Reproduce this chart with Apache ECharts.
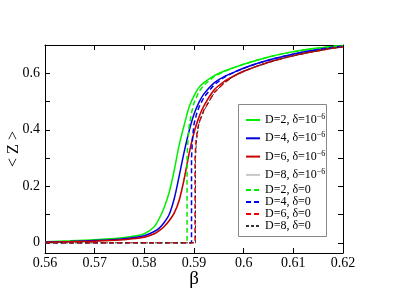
<!DOCTYPE html>
<html><head><meta charset="utf-8">
<script src="https://cdn.jsdelivr.net/npm/echarts@6/dist/echarts.min.js"></script>
<style>html,body{margin:0;padding:0;background:#fff}#c{width:411px;height:291px}</style>
</head><body><div id="c"></div>
<script>
var xTicks = [0.56, 0.57, 0.58, 0.59, 0.6, 0.61, 0.62];
var yLabels = [0, 0.2, 0.4, 0.6];
var yTicks = [0, 0.1, 0.2, 0.3, 0.4, 0.5, 0.6, 0.7];

var beta = [0.56,0.565,0.57,0.575,0.578,0.58,0.582,0.583,0.584,0.585,0.586,0.587,0.588,0.589,0.590,0.591,0.592,0.594,0.596,0.598,0.600,0.603,0.606,0.609,0.612,0.615,0.618,0.62];
var zD2 = [0.004,0.007,0.011,0.017,0.024,0.032,0.057,0.086,0.125,0.178,0.255,0.345,0.415,0.48,0.52,0.55,0.567,0.591,0.607,0.62,0.632,0.648,0.662,0.673,0.682,0.689,0.695,0.698];
var zD4 = [0.003,0.005,0.008,0.013,0.019,0.025,0.04,0.052,0.072,0.1,0.155,0.235,0.32,0.395,0.455,0.497,0.527,0.565,0.587,0.603,0.618,0.636,0.651,0.664,0.675,0.684,0.692,0.696];
var zD6 = [0.002,0.004,0.006,0.01,0.015,0.02,0.032,0.043,0.058,0.078,0.105,0.15,0.225,0.315,0.39,0.445,0.485,0.54,0.57,0.59,0.607,0.627,0.644,0.658,0.67,0.68,0.689,0.694];
var zD8 = [0.002,0.004,0.006,0.01,0.015,0.02,0.032,0.043,0.058,0.078,0.104,0.148,0.222,0.312,0.388,0.444,0.484,0.539,0.57,0.59,0.607,0.627,0.644,0.658,0.67,0.68,0.689,0.694];

var beta0D2 = [0.56,0.5886,0.5886,0.5888,0.589,0.5895,0.590,0.591,0.592,0.594,0.596,0.598,0.600,0.603,0.606,0.609,0.612,0.615,0.618,0.62];
var z0D2   = [0,0,0.30,0.37,0.41,0.46,0.495,0.535,0.558,0.588,0.606,0.62,0.632,0.648,0.662,0.673,0.682,0.689,0.695,0.698];
var beta0D4 = [0.56,0.5895,0.5895,0.5897,0.590,0.5905,0.591,0.592,0.594,0.596,0.598,0.600,0.603,0.606,0.609,0.612,0.615,0.618,0.62];
var z0D4   = [0,0,0.30,0.37,0.42,0.455,0.48,0.515,0.558,0.585,0.603,0.618,0.636,0.651,0.664,0.675,0.684,0.692,0.696];
var beta0D6 = [0.56,0.5902,0.5902,0.5904,0.5907,0.591,0.592,0.594,0.596,0.598,0.600,0.603,0.606,0.609,0.612,0.615,0.618,0.62];
var z0D6   = [0,0,0.30,0.36,0.40,0.425,0.47,0.53,0.565,0.59,0.607,0.627,0.644,0.658,0.67,0.68,0.689,0.694];
var beta0D8 = [0.56,0.5903,0.5903,0.5905,0.5908,0.591,0.592,0.594,0.596,0.598,0.600,0.603,0.606,0.609,0.612,0.615,0.618,0.62];
var z0D8   = [0,0,0.30,0.36,0.40,0.423,0.468,0.529,0.565,0.59,0.607,0.627,0.644,0.658,0.67,0.68,0.689,0.694];

var names1 = ['D=2, δ=10^-6','D=4, δ=10^-6','D=6, δ=10^-6','D=8, δ=10^-6'];
var names0 = ['D=2, δ=0','D=4, δ=0','D=6, δ=0','D=8, δ=0'];

function pairs(xs, ys){ return xs.map(function(x,i){ return [x, ys[i]]; }); }

var FONT = 'Liberation Serif';
var chart = echarts.init(document.getElementById('c'), null, {renderer:'canvas'});

function solid(name, xs, ys, color, z){
  return {name:name, type:'line', data:pairs(xs,ys), symbol:'none', smooth:0.3, z:z,
    lineStyle:{color:color, width:1.5}, itemStyle:{color:color}};
}
function dashed(name, xs, ys, color, w, dash, z){
  return {name:name, type:'line', data:pairs(xs,ys), symbol:'none', z:z,
    lineStyle:{color:color, width:w, type:dash}, itemStyle:{color:color}};
}

var axisCommon = {
  min:0.56, max:0.62, interval:0.01,
  axisLine:{show:true, onZero:false, lineStyle:{color:'#000', width:1}},
  axisTick:{show:true, inside:true, length:5, lineStyle:{color:'#000'}},
  splitLine:{show:false}
};

var legendCommon = {orient:'vertical', left:240, itemWidth:14, itemHeight:10, z:60,
  itemStyle:{opacity:0}};

chart.setOption({
  animation:false,
  backgroundColor:'#fff',
  grid:{left:45, right:68, top:45, bottom:38, containLabel:false, outerBoundsMode:'none'},
  xAxis:[
    Object.assign({type:'value', position:'bottom', name:'β', nameLocation:'middle', nameGap:17,
      nameMoveOverlap:false,
      nameTextStyle:{fontFamily:FONT, fontSize:19, color:'#000'},
      axisLabel:{fontFamily:FONT, fontSize:14, color:'#000', margin:3, customValues:xTicks},
    }, axisCommon),
    Object.assign({type:'value', position:'top', axisLabel:{show:false}}, axisCommon)
  ],
  yAxis:[
    {type:'value', position:'left', min:-0.036, max:0.7,
      name:'< Z >', nameLocation:'middle', nameGap:23, nameMoveOverlap:false,
      nameTextStyle:{fontFamily:FONT, fontSize:16, color:'#000'},
      axisLine:{show:true, onZero:false, lineStyle:{color:'#000', width:1}},
      axisTick:{show:true, inside:true, length:5, customValues:yTicks, lineStyle:{color:'#000'}},
      axisLabel:{fontFamily:FONT, fontSize:14, color:'#000', margin:5, customValues:yLabels},
      splitLine:{show:false}},
    {type:'value', position:'right', min:-0.036, max:0.7,
      axisLine:{show:true, onZero:false, lineStyle:{color:'#000', width:1}},
      axisTick:{show:true, inside:true, length:5, customValues:yTicks, lineStyle:{color:'#000'}},
      axisLabel:{show:false}, splitLine:{show:false}}
  ],
  graphic:[{type:'rect', shape:{x:238.5, y:104.5, width:88, height:132},
    style:{fill:'#fff', stroke:'#888', lineWidth:1}, z:50}],
  legend:[
    Object.assign({data:names1, top:108, itemGap:4.3,
      textStyle:{fontFamily:FONT, fontSize:12, color:'#000',
        rich:{a:{fontFamily:FONT, fontSize:12, color:'#000', lineHeight:14},
              s:{fontFamily:FONT, fontSize:8, color:'#000', verticalAlign:'top', lineHeight:14, padding:[0,0,6,0]}}},
      formatter:function(n){ return '{a|' + n.replace('^-6','') + '}{s|−6}'; }}, legendCommon),
    Object.assign({data:names0, top:179, itemGap:0,
      textStyle:{fontFamily:FONT, fontSize:12, color:'#000'}}, legendCommon)
  ],
  series:[
    solid(names1[0], beta, zD2, '#00ee00', 3),
    solid(names1[1], beta, zD4, '#0000dd', 3),
    solid(names1[3], beta, zD8, '#c8c8c8', 2),
    solid(names1[2], beta, zD6, '#cc0000', 3),
    dashed(names0[0], beta0D2, z0D2, '#00ee00', 1.5, [5,3], 4),
    dashed(names0[1], beta0D4, z0D4, '#0000ee', 1.5, [5,3], 4),
    dashed(names0[2], beta0D6, z0D6, '#ee0000', 1.5, [5,3], 4),
    dashed(names0[3], beta0D8, z0D8, '#333333', 1, [3,2], 5)
  ]
});
</script></body></html>
